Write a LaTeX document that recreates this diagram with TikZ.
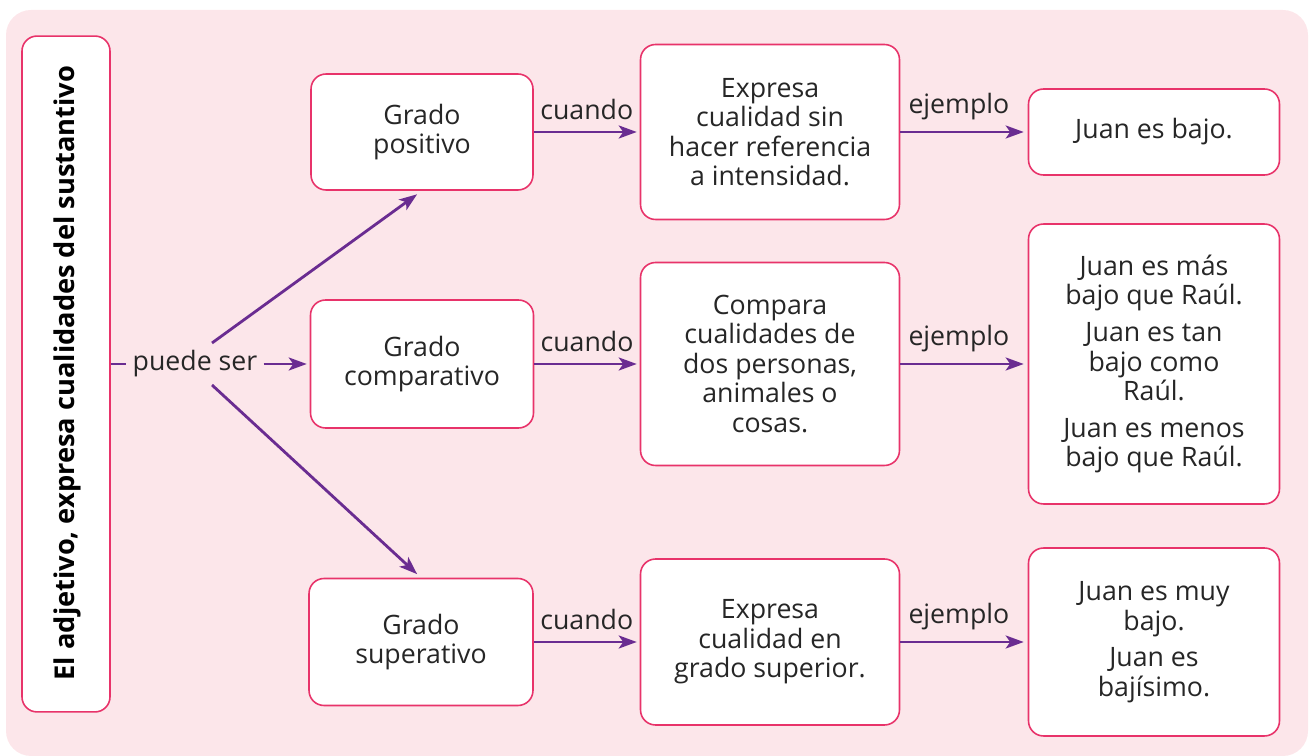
\documentclass[tikz,border=0pt]{standalone}
\usepackage{fontspec}
\setmainfont{Open Sans}
\usetikzlibrary{arrows.meta}
\definecolor{fondo}{HTML}{FCE6EA}
\definecolor{borde}{HTML}{E8336A}
\definecolor{flecha}{HTML}{6A2C91}
\definecolor{texto}{HTML}{262626}

\begin{document}
\begin{tikzpicture}[x=0.02cm, y=-0.02cm,
  every node/.style={font=\fontsize{15.2}{16.8}\selectfont, text=texto},
  caja/.style={draw=borde, line width=0.9pt, fill=white, rounded corners=0.3cm, align=center, inner sep=0pt},
  flechita/.style={->, draw=flecha, line width=1.6pt},
  >={Stealth[length=3.6mm, width=2.6mm, inset=0.9mm]}]
	\useasboundingbox (0,0) rectangle (1309,756);
	\fill[fondo, rounded corners=0.5cm] (6,10) rectangle (1308,756);
	% caja de la izquierda
	\node[caja, minimum width=1.76cm, minimum height=13.52cm] (adj) at (66,374) {};
	\node[rotate=90, font=\fontsize{15.5}{18}\selectfont\bfseries, text=black] (adjt) at (67,373) {El adjetivo, expresa cualidades del sustantivo};
	\node (puede) at (195,364) {puede ser};
	% grados
	\node[caja, minimum width=4.44cm, minimum height=2.32cm] (pos) at (422,132) {Grado\\positivo};
	\node[caja, minimum width=4.46cm, minimum height=2.56cm] (comp) at (422,364) {Grado\\comparativo};
	\node[caja, minimum width=4.48cm, minimum height=2.54cm] (sup) at (421,642) {Grado\\superativo};
	% definiciones
	\node[caja, minimum width=5.18cm, minimum height=3.5cm] (def1) at (770,132) {Expresa\\cualidad sin\\hacer referencia\\a intensidad.};
	\node[caja, minimum width=5.18cm, minimum height=4.06cm] (def2) at (770,364) {Compara\\cualidades de\\dos personas,\\animales o\\cosas.};
	\node[caja, minimum width=5.18cm, minimum height=3.32cm] (def3) at (770,642) {Expresa\\cualidad en\\grado superior.};
	% ejemplos
	\node[caja, minimum width=5.02cm, minimum height=1.72cm] (ej1) at (1154,132) {Juan es bajo.};
	\node[caja, minimum width=5.02cm, minimum height=5.6cm] (ej2) at (1154,364) {Juan es más\\bajo que Raúl.\\[4pt]Juan es tan\\bajo como\\Raúl.\\[4pt]Juan es menos\\bajo que Raúl.};
	\node[caja, minimum width=5.02cm, minimum height=3.76cm] (ej3) at (1154,642) {Juan es muy\\bajo.\\[4pt]Juan es\\bajísimo.};
	% conectores
	\coordinate (arr) at (212,343);
	\coordinate (aba) at (212,385);
	\draw[draw=flecha, line width=1.6pt] (adj.east |- puede.west) -- (puede.west);
	\draw[flechita, shorten >=1.7pt] (puede.east) -- (comp.west);
	\draw[flechita, shorten >=3.4pt] (arr) -- (pos.south);
	\draw[flechita, shorten >=3pt] (aba) -- (sup.north);
	\foreach \g/\d/\e in {pos/def1/ej1, comp/def2/ej2, sup/def3/ej3} {
		\draw[flechita, shorten >=1.7pt] (\g.east) -- node[above=3pt] (c\g) {cuando} (\d.west);
		\draw[flechita, shorten >=2.3pt] (\d.east) -- node[above=3pt, pos=0.46] (e\g) {ejemplo} (\e.west);
	}
\end{tikzpicture}
\end{document}
